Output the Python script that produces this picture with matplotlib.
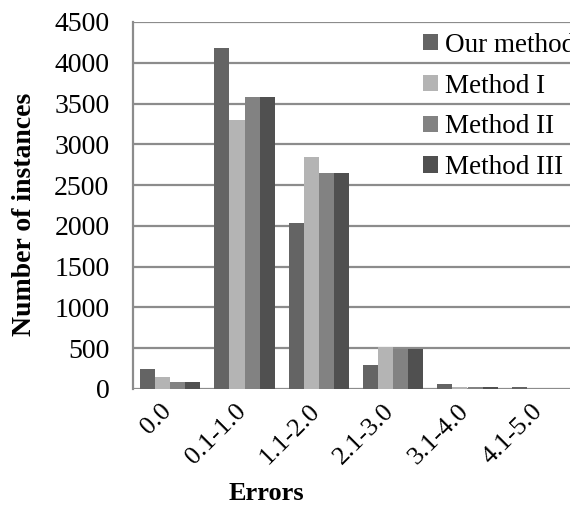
import matplotlib
matplotlib.use("Agg")
import matplotlib.pyplot as plt
import matplotlib.transforms as mtransforms
import numpy as np

categories = ["0.0", "0.1-1.0", "1.1-2.0", "2.1-3.0", "3.1-4.0", "4.1-5.0"]
our_method = [250, 4180, 2040, 300, 60, 30]
method_1 = [150, 3300, 2850, 520, 20, 0]
method_2 = [80, 3580, 2650, 495, 30, 0]
method_3 = [80, 3580, 2650, 495, 30, 0]
series_names = ["Our method", "Method I", "Method II", "Method III"]
colors = ["#646464", "#b4b4b4", "#828282", "#505050"]

plt.rcParams['font.family'] = ['Liberation Serif', 'DejaVu Serif']

fig = plt.figure(figsize=(5.70, 5.08), dpi=100)
ax = fig.add_axes([133/570, 1 - 389/508, (579-133)/570, (389-22)/508])

x = np.arange(len(categories))
w = 0.2025
series = [our_method, method_1, method_2, method_3]
for i, (vals, name, c) in enumerate(zip(series, series_names, colors)):
    ax.bar(x + (i - 1.5) * w, vals, width=w, color=c, label=name, zorder=3)

ax.set_xlim(-0.5, len(categories) - 0.5)
ax.set_ylim(0, 4500)
ax.set_yticks(np.arange(0, 4501, 500))
ax.yaxis.grid(True, color="#8c8c8c", linewidth=1.6, zorder=0)
ax.set_axisbelow(True)
for s in ["top", "right", "bottom"]:
    ax.spines[s].set_visible(False)
ax.spines["left"].set_color("#8c8c8c")
ax.spines["left"].set_linewidth(1.6)
ax.tick_params(axis="y", length=0, labelsize=20, pad=17)
ax.tick_params(axis="x", length=0, labelsize=19, pad=8)
ax.set_xticks(x)
ax.set_xticklabels(categories, rotation=45, ha="right", va="top", rotation_mode="anchor")
offset = mtransforms.ScaledTranslation(-10/100, 0, fig.dpi_scale_trans)
for lab in ax.get_xticklabels():
    lab.set_transform(lab.get_transform() + offset)

ax.set_ylabel("Number of instances", fontsize=20, fontweight="bold")
ax.yaxis.set_label_coords(-(133-25)/446, (389-214)/367)
ax.set_xlabel("Errors", fontsize=19, fontweight="bold")
ax.xaxis.set_label_coords((266-133)/446, -(493-389)/367)
ax.xaxis.label.set_va("center")
ax.yaxis.label.set_va("center")

ax.legend(loc="upper left", bbox_to_anchor=(0.627, 1.0), frameon=False,
          fontsize=19.5, handlelength=0.55, handleheight=0.55, handletextpad=0.25,
          labelspacing=0.58, borderaxespad=0)

fig.savefig("out.png", dpi=100)
